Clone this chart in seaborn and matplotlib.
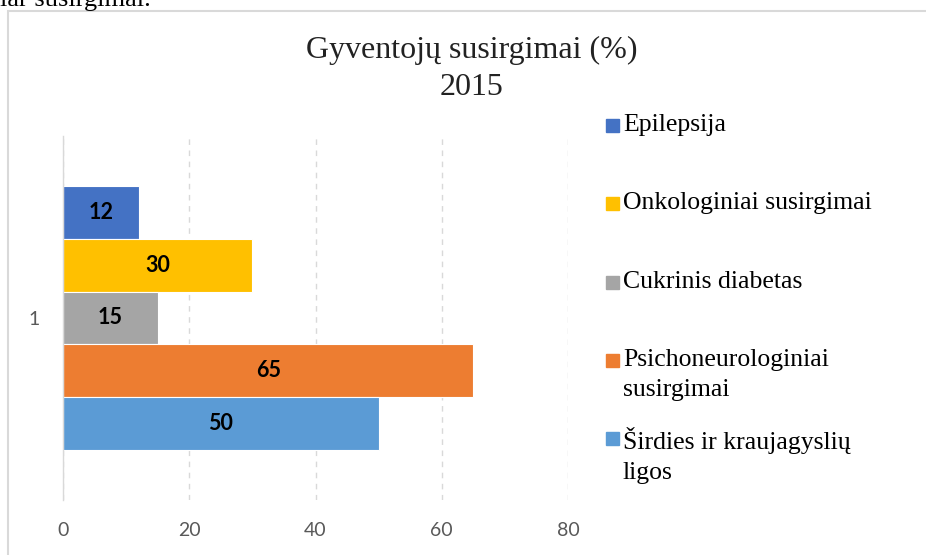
import matplotlib
matplotlib.use("Agg")
import matplotlib.pyplot as plt
from matplotlib.patches import Rectangle
import seaborn as sns
import pandas as pd

# duomenys
ligos = ['Epilepsija', 'Onkologiniai susirgimai', 'Cukrinis diabetas',
         'Psichoneurologiniai susirgimai', 'Širdies ir kraujagyslių ligos']
legend_labels = ['Epilepsija', 'Onkologiniai susirgimai', 'Cukrinis diabetas',
                 'Psichoneurologiniai\nsusirgimai', 'Širdies ir kraujagyslių\nligos']
reiksmes = [12, 30, 15, 65, 50]
grupe = ['1'] * len(ligos)
spalvos = ['#4472C4', '#FFC000', '#A5A5A5', '#ED7D31', '#5B9BD5']
x_ticks = [0, 20, 40, 60, 80]

df = pd.DataFrame({'liga': ligos, 'reiksme': reiksmes, 'grupe': grupe})

sns.set_style('white')
plt.rcParams['font.family'] = ['Lato', 'DejaVu Sans']

W, H = 926, 555
fig = plt.figure(figsize=(W / 100, H / 100), dpi=100)
ax = fig.add_axes([63 / W, 1 - 500 / H, (568 - 63) / W, (500 - 136) / H])

sns.barplot(data=df, x='reiksme', y='grupe', hue='liga', hue_order=ligos,
            palette=spalvos, orient='h', width=0.725, saturation=1,
            edgecolor='white', linewidth=0.8, legend=False, ax=ax)

for c in ax.containers:
    ax.bar_label(c, label_type='center', fontweight='bold', fontsize=15.5, color='black')

ax.set_xlim(0, 80)
ax.set_xticks(x_ticks)
ax.set_xlabel('')
ax.set_ylabel('')
ax.xaxis.grid(True, linestyle=(0, (4, 4)), color='#d9d9d9', linewidth=1)
ax.set_axisbelow(True)
for s in ['top', 'right', 'bottom']:
    ax.spines[s].set_visible(False)
ax.spines['left'].set_color('#d9d9d9')
ax.spines['left'].set_linewidth(1)
ax.tick_params(axis='x', length=0, pad=16, labelsize=14, labelcolor='#595959')
ax.tick_params(axis='y', length=0, pad=17, labelsize=14, labelcolor='#595959')

# pavadinimas
fig.text(472 / W, 1 - 50 / H, 'Gyventojų susirgimai (%)', ha='center', va='center',
         fontsize=23, family='Liberation Serif', color='#222222')
fig.text(472 / W, 1 - 88 / H, '2015', ha='center', va='center',
         fontsize=23, family='Liberation Serif', color='#222222')

# legenda
leg_y = [125, 203, 282, 360, 438]
for lab, col, y in zip(legend_labels, spalvos, leg_y):
    fig.add_artist(Rectangle((606 / W, 1 - (y + 7) / H), 13 / W, 13 / H,
                             transform=fig.transFigure, color=col))
    fig.text(623 / W, 1 - (y - 11) / H, lab, ha='left', va='top', fontsize=18.5,
             family='Liberation Serif', color='black', linespacing=1.45)

# rėmelis ir nukirstas tekstas viršuje
fig.add_artist(Rectangle((8 / W, -0.1), 2, 1.1 - 11 / H, transform=fig.transFigure,
                         fill=False, edgecolor='#d9d9d9', linewidth=1.5))
fig.text(0 / W, 1 - 6 / H, 'lar susirgimai.', ha='left', va='baseline',
         fontsize=19, family='Liberation Serif', color='black')

fig.savefig('out.png', dpi=100)
